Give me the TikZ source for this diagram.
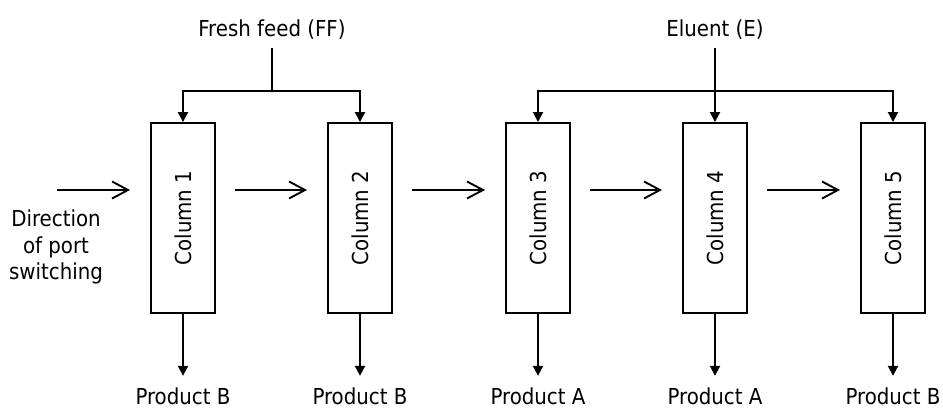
\documentclass[tikz,border=0pt]{standalone}
\usepackage{fontspec}
\setmainfont{DejaVu Sans Condensed}
\usetikzlibrary{arrows.meta}

\begin{document}
\begin{tikzpicture}[x=1pt,y=-1pt,line width=1.9pt,
  font=\fontsize{22}{26.5}\selectfont,
  column/.style={draw,minimum width=64pt,minimum height=190pt,inner sep=0pt},
  flow/.style={-{Straight Barb[length=16pt,width=17pt]},shorten >=20pt},
  pipe/.style={-{Triangle[length=10pt,width=10pt]}},
  feedlbl/.style={anchor=base,inner ysep=7pt},
  prodlbl/.style={anchor=base,inner ysep=10.5pt}]
\useasboundingbox (0,0) rectangle (943,409);

\node[column] (c1) at (183,218) {\rotatebox{90}{Column 1}};
\node[column] (c2) at (360,218) {\rotatebox{90}{Column 2}};
\node[column] (c3) at (538,218) {\rotatebox{90}{Column 3}};
\node[column] (c4) at (715,218) {\rotatebox{90}{Column 4}};
\node[column] (c5) at (893,218) {\rotatebox{90}{Column 5}};

\node[prodlbl] (p1) at (183,404) {Product B};
\node[prodlbl] (p2) at (360,404) {Product B};
\node[prodlbl] (p3) at (538,404) {Product A};
\node[prodlbl] (p4) at (715,404) {Product A};
\node[prodlbl] (p5) at (893,404) {Product B};
\foreach \i in {1,...,5}
  \draw[pipe] (c\i.south) -- (p\i.north);

\node[feedlbl] (ff) at (272,37) {Fresh feed (FF)};
\node[feedlbl] (el) at (715,37) {Eluent (E)};
\coordinate (ffjoin) at (ff.south |- 0,91);
\coordinate (eljoin) at (el.south |- 0,91);
\draw (ff.south) -- (ffjoin);
\draw[pipe] (ffjoin) -| (c1.north);
\draw[pipe] (ffjoin) -| (c2.north);
\draw[pipe] (el.south) -- (c4.north);
\draw[pipe] (eljoin) -| (c3.north);
\draw[pipe] (eljoin) -| (c5.north);

\node[align=center] (dirtext) at (56,247) {Direction\\of port\\switching};
\coordinate (dir) at (57,190);
\draw[flow] (dir) -- (c1.west |- dir);
\foreach \a/\b in {c1/c2,c2/c3,c3/c4,c4/c5}
  \draw[flow,shorten <=19pt] (\a.east |- dir) -- (\b.west |- dir);
\end{tikzpicture}
\end{document}
